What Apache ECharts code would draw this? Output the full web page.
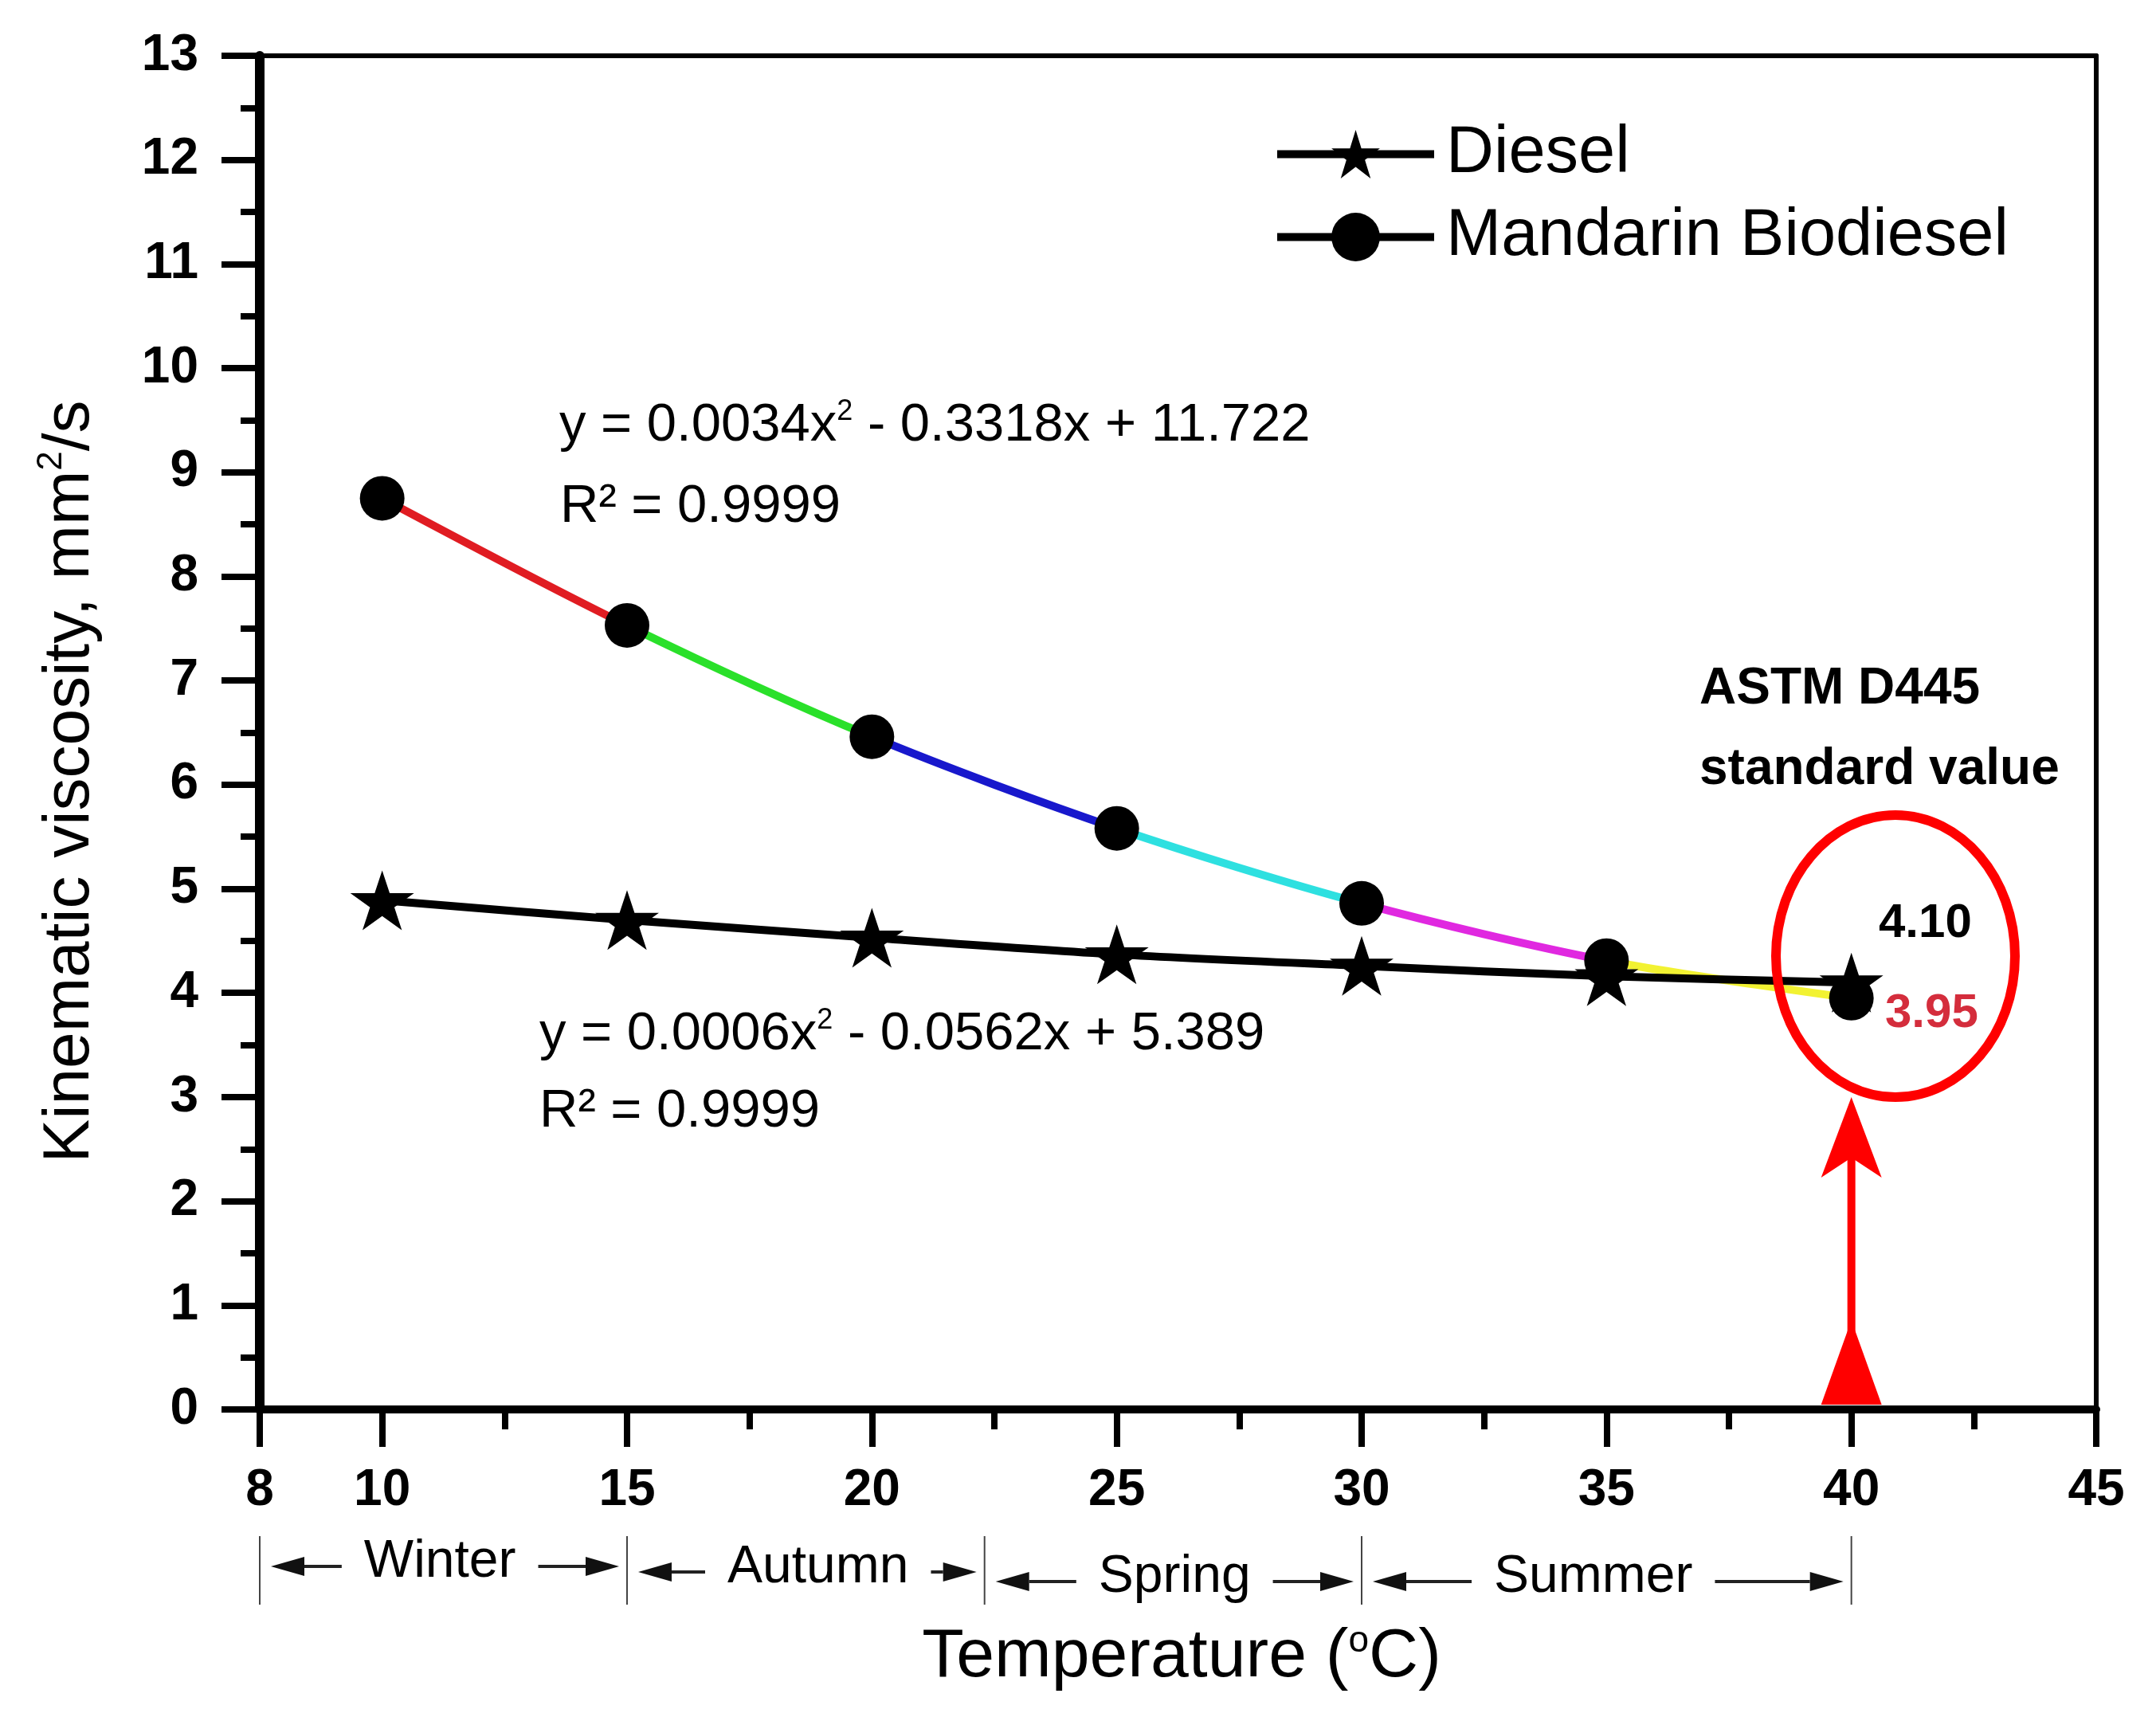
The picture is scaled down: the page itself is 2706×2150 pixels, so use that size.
<!DOCTYPE html>
<html>
<head>
<meta charset="utf-8">
<script src="https://cdn.jsdelivr.net/npm/echarts@6/dist/echarts.min.js"></script>
<style>
  html, body { margin: 0; padding: 0; background: #fff; }
  #main { width: 2706px; height: 2150px; }
</style>
</head>
<body>
<div id="main"></div>
<script>
// data
var temps = [10, 15, 20, 25, 30, 35, 40];
var dieselVisc = [4.89, 4.70, 4.53, 4.37, 4.26, 4.16, 4.10];
var biodieselVisc = [8.75, 7.53, 6.46, 5.58, 4.86, 4.31, 3.95];
var segmentColors = ['#e01c22', '#2ae02a', '#1818cc', '#2ee0e0', '#e028e0', '#f2f232'];
var xMajorTicks = [7.5, 10, 15, 20, 25, 30, 35, 40, 45];
var xMinorTicks = [12.5, 17.5, 22.5, 27.5, 32.5, 37.5, 42.5];
var seasonNames = ['Winter', 'Autumn', 'Spring', 'Summer'];
var seasonBounds = [7.5, 15, 22.3, 30, 40];
var seasonCenters = [11.18, 18.9, 26.18, 34.73];

var FONT = '"Liberation Sans", Arial, sans-serif';
var STAR = 'path://M50,0L61.2,34.5L97.6,34.5L68.2,55.9L79.4,90.5L50,69.1L20.6,90.5L31.8,55.9L2.4,34.5L38.8,34.5Z';

var chart = echarts.init(document.getElementById('main'));

function pairs(xs, ys) {
  return xs.map(function (x, i) { return [x, ys[i]]; });
}

var pieces = segmentColors.map(function (c, i) {
  var p = { gte: temps[i], color: c };
  if (i === segmentColors.length - 1) p.lte = temps[i + 1];
  else p.lt = temps[i + 1];
  return p;
});

var option = {
  animation: false,
  backgroundColor: '#fff',
  textStyle: { fontFamily: FONT },
  grid: { left: 326, right: 75, top: 70, bottom: 381 },
  legend: {
    orient: 'vertical',
    left: 1593,
    top: 147,
    itemWidth: 197,
    itemHeight: 76,
    itemGap: 21,
    selectedMode: false,
    lineStyle: { width: 10, color: '#000' },
    data: [
      { name: 'Diesel' },
      { name: 'Mandarin Biodiesel', lineStyle: { opacity: 1, width: 10, color: '#000' } }
    ],
    textStyle: { fontSize: 83, color: '#000', fontFamily: FONT, padding: [0, 0, 0, 10] }
  },
  visualMap: {
    type: 'piecewise',
    show: false,
    dimension: 0,
    seriesIndex: 0,
    pieces: pieces
  },
  xAxis: [
    {
      type: 'value', min: 7.5, max: 45, position: 'bottom',
      axisLine: { show: true, onZero: false, lineStyle: { color: '#000', width: 10 } },
      axisTick: { show: true, customValues: xMajorTicks, length: 47, lineStyle: { color: '#000', width: 8 } },
      axisLabel: {
        customValues: xMajorTicks,
        formatter: function (v) { return v === 7.5 ? '8' : String(v); },
        fontSize: 64, fontWeight: 'bold', color: '#000', margin: 70, fontFamily: FONT
      },
      splitLine: { show: false }
    },
    {
      type: 'value', min: 7.5, max: 45, position: 'bottom',
      axisLine: { show: false },
      axisTick: { show: true, customValues: xMinorTicks, length: 25, lineStyle: { color: '#000', width: 8 } },
      axisLabel: { show: false },
      splitLine: { show: false }
    },
    {
      type: 'value', min: 7.5, max: 45, position: 'top',
      axisLine: { show: true, onZero: false, lineStyle: { color: '#000', width: 6 } },
      axisTick: { show: false },
      axisLabel: { show: false },
      splitLine: { show: false }
    }
  ],
  yAxis: [
    {
      type: 'value', min: 0, max: 13, interval: 1, position: 'left',
      axisLine: { show: true, onZero: false, lineStyle: { color: '#000', width: 12 } },
      axisTick: { show: true, length: 48, lineStyle: { color: '#000', width: 8 } },
      minorTick: { show: true, splitNumber: 2, length: 24, lineStyle: { color: '#000', width: 8 } },
      axisLabel: { fontSize: 64, fontWeight: 'bold', color: '#000', margin: 77, fontFamily: FONT },
      splitLine: { show: false },
      minorSplitLine: { show: false }
    },
    {
      type: 'value', min: 0, max: 13, position: 'right',
      axisLine: { show: true, onZero: false, lineStyle: { color: '#000', width: 6 } },
      axisTick: { show: false },
      axisLabel: { show: false },
      splitLine: { show: false }
    }
  ],
  series: [
    {
      name: 'bio-fit', type: 'line', data: pairs(temps, biodieselVisc),
      smooth: 0.3, symbol: 'none', lineStyle: { width: 10 }, z: 2, silent: true
    },
    {
      name: 'Diesel', type: 'line', data: pairs(temps, dieselVisc),
      smooth: 0.3, symbol: STAR, symbolSize: [80, 75],
      itemStyle: { color: '#000' }, lineStyle: { color: '#000', width: 10 }, z: 3
    },
    {
      name: 'Mandarin Biodiesel', type: 'line', data: pairs(temps, biodieselVisc),
      smooth: 0.3, symbol: 'circle', symbolSize: 56,
      itemStyle: { color: '#000' }, lineStyle: { color: '#000', width: 10, opacity: 0 }, z: 4
    }
  ]
};

chart.setOption(option);

// annotations
function px(x, y) {
  return chart.convertToPixel({ xAxisIndex: 0, yAxisIndex: 0 }, [x, y]);
}
function label(text, x, y, size, weight, color, align, rich) {
  var st = {
    text: text, fontSize: size, fontFamily: FONT, fontWeight: weight || 'normal',
    fill: color || '#000', align: align || 'left', textAlign: align || 'left',
    verticalAlign: 'middle', textVerticalAlign: 'middle'
  };
  if (rich) st.rich = rich;
  return { type: 'text', x: x, y: y, z: 20, silent: true, style: st };
}
function sup(size, lh) {
  return { s: { fontSize: size, fontFamily: FONT, fill: '#000', verticalAlign: 'top', lineHeight: lh } };
}

var g = [];
g.push(label('y = 0.0034x{s|2} - 0.3318x + 11.722', 702, 535, 67, 'normal', '#000', 'left', sup(36, 72)));
g.push(label('R\u00b2 = 0.9999', 703, 637, 67));
g.push(label('y = 0.0006x{s|2} - 0.0562x + 5.389', 677, 1299, 67, 'normal', '#000', 'left', sup(36, 72)));
g.push(label('R\u00b2 = 0.9999', 677, 1396, 67));

g.push(label('ASTM D445', 2133, 865, 64, 'bold'));
g.push(label('standard value', 2133, 966, 64, 'bold'));
g.push(label('4.10', 2358, 1159, 60, 'bold', '#000'));
g.push(label('3.95', 2366, 1272, 60, 'bold', '#d42d3c'));

g.push({
  type: 'ellipse', z: 20, silent: true,
  shape: { cx: 2379, cy: 1200, rx: 150, ry: 177 },
  style: { fill: 'transparent', stroke: '#ff0000', lineWidth: 12 }
});

// red arrow at 40 °C
var base = px(40, 0);
var tip = px(40, 3);
var ax = base[0];
g.push({
  type: 'line', z: 20, silent: true,
  shape: { x1: ax, y1: base[1] - 60, x2: ax, y2: tip[1] + 60 },
  style: { stroke: '#ff0000', lineWidth: 10 }
});
g.push({
  type: 'polygon', z: 21, silent: true,
  shape: { points: [[ax, tip[1]], [ax + 38, tip[1] + 101], [ax, tip[1] + 76], [ax - 38, tip[1] + 101]] },
  style: { fill: '#ff0000' }
});
g.push({
  type: 'polygon', z: 21, silent: true,
  shape: { points: [[ax - 38, base[1] - 6], [ax + 38, base[1] - 6], [ax, base[1] - 112]] },
  style: { fill: '#ff0000' }
});

// season bar under the x axis
var ctx = document.createElement('canvas').getContext('2d');
ctx.font = '66px "Liberation Sans", Arial, sans-serif';
var seasonY = [1961, 1968, 1980, 1980];

function arrow(xTail, xTip, y) {
  var dir = xTip > xTail ? 1 : -1;
  var head = 42;
  g.push({
    type: 'line', z: 20, silent: true,
    shape: { x1: xTail, y1: y, x2: xTip - dir * head, y2: y },
    style: { stroke: '#222', lineWidth: 4 }
  });
  g.push({
    type: 'polygon', z: 20, silent: true,
    shape: { points: [[xTip, y], [xTip - dir * head, y - 12], [xTip - dir * head, y + 12]] },
    style: { fill: '#111' }
  });
}

seasonBounds.forEach(function (b) {
  var x = px(b, 0)[0];
  g.push({
    type: 'line', z: 20, silent: true,
    shape: { x1: x, y1: 1928, x2: x, y2: 2014 },
    style: { stroke: '#444', lineWidth: 2 }
  });
});

seasonNames.forEach(function (name, i) {
  var cx = px(seasonCenters[i], 0)[0];
  var y = seasonY[i];
  var w = ctx.measureText(name).width;
  var left = px(seasonBounds[i], 0)[0];
  var right = px(seasonBounds[i + 1], 0)[0];
  g.push(label(name, cx, y, 66, 'normal', '#000', 'center'));
  arrow(cx - w / 2 - 28, left + 14, y + 5);
  arrow(cx + w / 2 + 28, right - 10, y + 5);
});

// axis titles
g.push({
  type: 'text', x: 88, y: 981, rotation: Math.PI / 2, z: 20, silent: true,
  style: {
    text: 'Kinematic viscosity, mm{s|2}/s', fontSize: 82, fontFamily: FONT, fill: '#000',
    align: 'center', textAlign: 'center', verticalAlign: 'middle', textVerticalAlign: 'middle',
    rich: sup(44, 90)
  }
});
g.push({
  type: 'text', x: 1483, y: 2080, z: 20, silent: true,
  style: {
    text: 'Temperature ({s|o}C)', fontSize: 86, fontFamily: FONT, fill: '#000',
    align: 'center', textAlign: 'center', verticalAlign: 'middle', textVerticalAlign: 'middle',
    rich: sup(46, 86)
  }
});

chart.setOption({ graphic: g });
</script>
</body>
</html>
